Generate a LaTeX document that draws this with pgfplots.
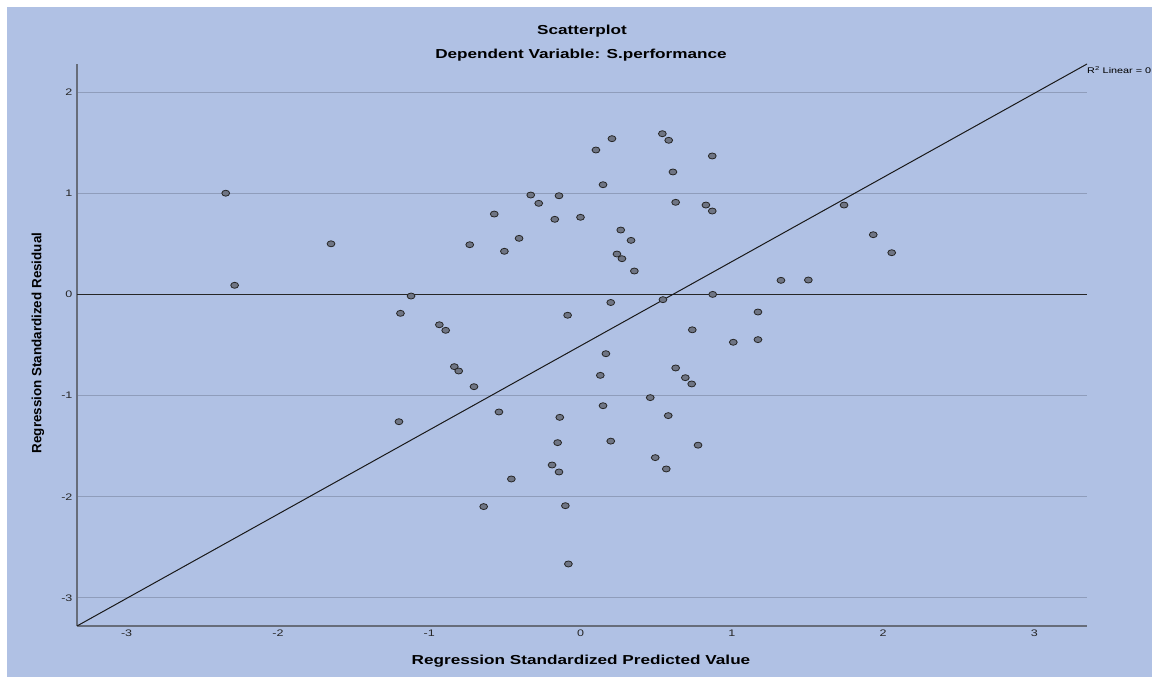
\documentclass[border=0pt]{standalone}
\usepackage{fontspec}
\setmainfont{Liberation Sans}
\newfontfamily\widefont[FakeStretch=1.32]{Liberation Sans}
\usepackage{pgfplots}
\pgfplotsset{compat=1.18}
\definecolor{bgblue}{HTML}{B0C1E4}
\definecolor{gridc}{HTML}{8F9DBB}
\definecolor{axisc}{HTML}{676D7A}
\definecolor{markfill}{HTML}{6F7584}
\begin{document}
\begin{tikzpicture}[x=1pt,y=1pt]
\path[use as bounding box] (0,0) rectangle (1152,677);
\clip (0,0) rectangle (1152,677);
\fill[white] (0,0) rectangle (1152,677);
\fill[bgblue] (7,0) rectangle (1152,670);
\node[font=\widefont\bfseries\fontsize{13}{15}\selectfont] at (582,646) {Scatterplot};
\node[font=\widefont\bfseries\fontsize{13}{15}\selectfont] at (581,622) {Dependent Variable: S.performance};
\node[font=\widefont\bfseries\fontsize{13}{15}\selectfont] at (581,16) {Regression Standardized Predicted Value};
\node[rotate=90,font=\bfseries\fontsize{13.4}{15}\selectfont] at (38,334) {Regression Standardized Residual};
\begin{axis}[
  at={(77pt,51pt)}, anchor=south west,
  scale only axis, width=1010pt, height=562pt,
  xmin=-3.328, xmax=3.348, ymin=-3.277, ymax=2.277,
  axis lines*=left,
  axis line style={axisc, line width=1.3pt},
  xtick={-3,-2,-1,0,1,2,3}, ytick={-3,-2,-1,0,1,2},
  major tick length=0pt,
  ymajorgrids, grid style={gridc, line width=1pt},
  tick label style={font=\widefont\fontsize{9.5}{11}\selectfont, text=black!85},
  yticklabel style={xshift=-1pt},
  /pgf/number format/assume math mode=true,
  axis background/.style={fill=none},
]
\addplot[black!85, line width=1.1pt] coordinates {(-3.328,0) (3.348,0)};
\addplot[black!90, line width=1pt] coordinates {(-3.328,-3.277) (3.348,2.277)};
\addplot[only marks, mark=*, mark size=3pt,
  mark options={fill=markfill, draw=black!85, line width=0.8pt, xscale=1.3}] table {
x y
-2.345 1.000
-2.286 0.090
-1.649 0.500
-1.120 -0.016
-1.190 -0.187
-0.933 -0.300
-0.891 -0.355
-0.834 -0.714
-0.805 -0.757
-0.704 -0.912
-0.732 0.491
-0.570 0.794
-0.503 0.426
-0.406 0.554
-0.329 0.982
-0.276 0.900
-0.170 0.742
-0.142 0.975
0.000 0.762
0.102 1.427
0.208 1.539
0.149 1.084
0.541 1.588
0.583 1.523
0.611 1.210
0.871 1.368
0.629 0.910
0.829 0.883
0.871 0.824
0.266 0.636
0.334 0.534
0.241 0.399
0.274 0.353
0.356 0.231
-0.085 -0.206
0.200 -0.080
0.545 -0.052
0.874 0.000
0.739 -0.350
1.742 0.883
1.935 0.590
2.057 0.412
1.325 0.139
1.506 0.142
1.173 -0.174
1.010 -0.473
1.173 -0.447
0.168 -0.586
0.131 -0.800
0.629 -0.727
0.693 -0.823
0.735 -0.885
0.461 -1.020
-1.200 -1.258
-0.539 -1.162
-0.137 -1.215
0.149 -1.100
0.580 -1.198
-0.151 -1.465
0.200 -1.450
0.777 -1.490
-0.188 -1.686
-0.142 -1.755
0.494 -1.613
0.567 -1.725
-0.457 -1.824
-0.640 -2.097
-0.100 -2.088
-0.080 -2.664
};
\end{axis}
\node[anchor=west,font=\widefont\fontsize{8.2}{10}\selectfont,inner sep=0pt] at (1087,607) {R\textsuperscript{2} Linear = 0};
\end{tikzpicture}
\end{document}
